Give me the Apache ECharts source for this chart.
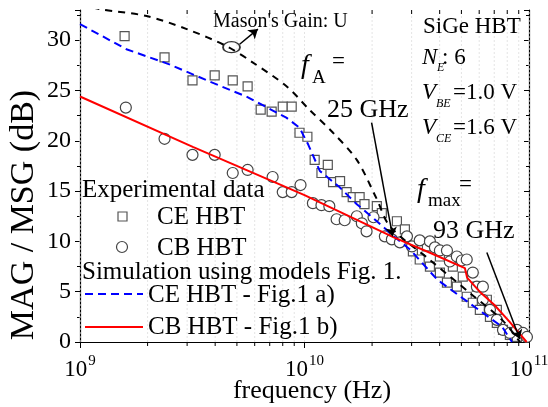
<!DOCTYPE html>
<html>
<head>
<meta charset="utf-8">
<script src="https://cdn.jsdelivr.net/npm/echarts@6/dist/echarts.min.js"></script>
<style>
  html, body { margin: 0; padding: 0; background: #fff; }
  #chart { width: 548px; height: 407px; }
</style>
</head>
<body>
<div id="chart"></div>
<script>
// Mason's gain U (black dashed)
const uFreqGHz = [1.0, 1.22, 1.98, 2.99, 4.5, 5.87, 8.34, 10.5, 13.4, 17.1, 21.0, 24.0, 36.0, 55.0, 76.6, 91.0]
const uGain = [33.6, 33.1, 32.4, 31.1, 29.4, 27.8, 25.4, 23.1, 20.8, 18.1, 14.2, 11.5, 8.2, 4.8, 2.1, 0]

// simulation CE HBT - Fig.1 a) (blue dashed)
const ceSimFreqGHz = [1.0, 1.61, 2.5, 3.77, 5.5, 8.3, 9.5, 10.4, 11.7, 14.3, 17.1, 21.0, 25.0, 29.5, 39.0, 54.0, 76.0, 84.0]
const ceSimGain = [31.6, 29.1, 27.6, 25.9, 24.4, 22.3, 21.3, 19.6, 17.0, 15.4, 13.7, 12.0, 10.5, 9.2, 6.2, 3.9, 1.5, 0]

// simulation CB HBT - Fig.1 b) (red solid)
const cbSimFreqGHz = [1.0, 3.18, 10.0, 25.0, 36.0, 51.8, 53.0, 60.3, 70.0, 82.0, 97.6]
const cbSimGain = [24.4, 19.4, 14.6, 10.4, 8.9, 7.35, 6.4, 5.0, 3.7, 2.0, 0]

// experimental CE HBT (squares)
const ceExpFreqGHz = [1.58, 2.38, 3.17, 3.98, 4.79, 5.58, 6.38, 7.14, 8.0, 8.77, 9.5, 10.3, 11.1, 11.9, 12.7,
  13.4, 14.4, 15.4, 16.4, 17.6, 18.5, 21.0, 22.1, 25.8, 28.0, 30.4, 32.6, 35.1, 36.2, 40.1, 40.1, 43.1, 45.8,
  47.7, 50.7, 52.8, 56.2, 58.6, 60.4, 64.9, 67.0, 71.9, 71.9, 76.6, 82.2, 88.3]
const ceExpGain = [30.4, 28.3, 26.0, 26.5, 26.0, 25.4, 23.1, 22.9, 23.4, 23.4, 20.8, 20.4, 18.1, 16.8, 17.6,
  15.9, 16.0, 14.9, 14.4, 14.4, 13.7, 13.5, 12.8, 12.0, 11.2, 9.0, 8.2, 9.5, 7.5, 8.5, 6.9, 5.9, 7.5,
  5.5, 6.5, 4.5, 3.9, 5.5, 3.2, 4.2, 2.5, 3.2, 1.9, 1.2, 0.7, 0.5]

// experimental CB HBT (circles)
const cbExpFreqGHz = [1.60, 2.38, 3.17, 3.98, 4.79, 5.58, 7.21, 8.0, 8.77, 9.6, 10.9, 11.9, 12.9, 13.9, 15.1,
  17.1, 18.0, 18.9, 20.3, 22.8, 24.5, 26.6, 28.6, 30.1, 32.6, 36.2, 38.1, 40.1, 43.1, 44.4, 47.7, 50.2, 52.8,
  56.2, 58.6, 62.3, 62.3, 67.0, 71.9, 76.6, 82.2, 88.3, 94.0, 97.9]
const cbExpGain = [23.3, 20.2, 18.6, 18.6, 16.8, 17.1, 16.4, 14.9, 14.9, 15.6, 13.8, 13.6, 13.5, 12.2, 12.1,
  12.5, 11.8, 11.0, 12.4, 10.5, 10.2, 9.9, 10.5, 9.5, 10.1, 10.0, 9.4, 9.1, 9.1, 8.0, 8.5, 8.1, 8.2,
  6.9, 5.5, 4.2, 5.5, 3.2, 2.2, 1.2, 0.9, 1.2, 0.9, 0.5]

// x grid / minor tick positions (Hz)
const majorFreqs = [1e9, 1e10, 1e11]
const minorFreqs = [2e9, 3e9, 4e9, 5e9, 6e9, 7e9, 8e9, 9e9, 2e10, 3e10, 4e10, 5e10, 6e10, 7e10, 8e10, 9e10]

// annotation arrows [freq GHz, gain]
const masonArrow = [[5.14, 29.6], [6.2, 31.1]]
const faArrow = [[19.9, 21.8], [24.7, 10.5]]
const fmaxArrow = [[64.9, 8.9], [91.0, 0.3]]
const masonMark = [4.73, 29.3]

const X_MIN = 1e9
const X_MAX = 1e11
const Y_MIN = 0
const Y_MAX = 33
const FONT = 'Liberation Serif'

const toPairs = (fs, vs) => fs.map((f, i) => [f * 1e9, vs[i]])
const toHz = (p) => [p[0] * 1e9, p[1]]

const chart = echarts.init(document.getElementById('chart'))

function txt(x, y, text, size, extra) {
  return {
    type: 'text',
    x: x,
    y: y,
    z: 10,
    style: Object.assign({
      text: text,
      fontFamily: FONT,
      fontSize: size,
      fill: '#000',
      align: 'left',
      verticalAlign: 'middle'
    }, extra || {})
  }
}

function itxt(x, y, text, size) {
  return txt(x, y, text, size, { fontStyle: 'italic' })
}

const option = {
  animation: false,
  backgroundColor: '#fff',
  grid: { left: 80, right: 19, top: 10, bottom: 65, outerBoundsMode: 'none', containLabel: false },
  xAxis: [{
    type: 'log',
    logBase: 10,
    min: X_MIN,
    max: X_MAX,
    axisLine: { lineStyle: { color: '#000', width: 1.2 } },
    axisTick: { show: true, length: 6, lineStyle: { color: '#000' } },
    splitLine: { show: false },
    axisLabel: {
      margin: 12,
      formatter: (v) => '{b|10}{s|' + Math.round(Math.log10(v)) + '}',
      rich: {
        b: { fontFamily: FONT, fontSize: 23, color: '#000' },
        s: { fontFamily: FONT, fontSize: 15, color: '#000', padding: [0, 0, 16, 1] }
      }
    }
  }, {
    type: 'log',
    logBase: 10,
    min: X_MIN,
    max: X_MAX,
    position: 'top',
    axisLine: { lineStyle: { color: '#000', width: 1.2 } },
    axisTick: { show: true, inside: true, length: 6, lineStyle: { color: '#000' } },
    axisLabel: { show: false },
    splitLine: { show: false }
  }],
  yAxis: [{
    type: 'value',
    min: Y_MIN,
    max: Y_MAX,
    interval: 5,
    axisLine: { show: true, lineStyle: { color: '#000', width: 1.2 } },
    axisTick: { show: true, length: 5, lineStyle: { color: '#000' } },
    minorTick: { show: true, splitNumber: 2, length: 3, lineStyle: { color: '#000' } },
    splitLine: { show: false },
    axisLabel: {
      margin: 9,
      showMaxLabel: false,
      fontFamily: FONT,
      fontSize: 24,
      color: '#000',
      formatter: (v) => (v % 5 === 0 ? String(v) : '')
    }
  }, {
    type: 'value',
    min: Y_MIN,
    max: Y_MAX,
    interval: 5,
    position: 'right',
    axisLine: { show: true, lineStyle: { color: '#000', width: 1.2 } },
    axisTick: { show: true, inside: true, length: 5, lineStyle: { color: '#000' } },
    minorTick: { show: true, splitNumber: 2, length: 3, lineStyle: { color: '#000' } },
    axisLabel: { show: false },
    splitLine: { show: false }
  }],
  series: [{
    // faint vertical grid + minor log ticks
    type: 'custom',
    silent: true,
    z: 1,
    clip: false,
    data: majorFreqs.map(f => [f, 0, 0]).concat(minorFreqs.map(f => [f, 0, 1])),
    renderItem: (params, api) => {
      const f = api.value(0)
      const minor = api.value(2) === 1
      const pb = api.coord([f, Y_MIN])
      const pt = api.coord([f, Y_MAX])
      const children = [{
        type: 'line',
        shape: { x1: pb[0], y1: pb[1], x2: pt[0], y2: pt[1] },
        style: { stroke: '#e4e4e4', lineWidth: 1, lineDash: [2, 2] }
      }]
      if (minor) {
        children.push({
          type: 'line',
          shape: { x1: pb[0], y1: pb[1], x2: pb[0], y2: pb[1] + 4 },
          style: { stroke: '#000', lineWidth: 1 }
        }, {
          type: 'line',
          shape: { x1: pt[0], y1: pt[1], x2: pt[0], y2: pt[1] + 4 },
          style: { stroke: '#000', lineWidth: 1 }
        })
      }
      return { type: 'group', children: children }
    }
  }, {
    name: 'CE HBT',
    type: 'scatter',
    z: 2,
    silent: true,
    symbol: 'rect',
    symbolSize: 9,
    itemStyle: { color: '#fff', borderColor: '#555', borderWidth: 1.2, opacity: 1 },
    data: toPairs(ceExpFreqGHz, ceExpGain)
  }, {
    name: 'CB HBT',
    type: 'scatter',
    z: 2,
    silent: true,
    symbol: 'circle',
    symbolSize: 11,
    itemStyle: { color: '#fff', borderColor: '#444', borderWidth: 1.2, opacity: 1 },
    data: toPairs(cbExpFreqGHz, cbExpGain)
  }, {
    name: "Mason's Gain: U",
    type: 'line',
    z: 3,
    silent: true,
    smooth: 0.3,
    showSymbol: false,
    lineStyle: { color: '#000', width: 2, type: [7, 6] },
    data: toPairs(uFreqGHz, uGain)
  }, {
    name: 'CE HBT - Fig.1 a)',
    type: 'line',
    z: 4,
    silent: true,
    showSymbol: false,
    lineStyle: { color: '#0000ff', width: 2, type: [8, 5] },
    data: toPairs(ceSimFreqGHz, ceSimGain)
  }, {
    name: 'CB HBT - Fig.1 b)',
    type: 'line',
    z: 4,
    silent: true,
    showSymbol: false,
    lineStyle: { color: '#ff0000', width: 2 },
    data: toPairs(cbSimFreqGHz, cbSimGain)
  }, {
    type: 'scatter',
    z: 5,
    silent: true,
    symbol: 'circle',
    symbolSize: [17, 11],
    itemStyle: { color: 'rgba(0,0,0,0)', borderColor: '#000', borderWidth: 1.5 },
    data: [toHz(masonMark)]
  }, {
    type: 'lines',
    coordinateSystem: 'cartesian2d',
    z: 6,
    silent: true,
    symbol: ['none', 'arrow'],
    symbolSize: 9,
    lineStyle: { color: '#000', width: 1.5, opacity: 1 },
    data: [
      { coords: masonArrow.map(toHz) },
      { coords: faArrow.map(toHz) },
      { coords: fmaxArrow.map(toHz) }
    ]
  }],
  graphic: [
    // axis titles placed by hand, like the original figure
    {
      type: 'text',
      x: 24,
      y: 215,
      rotation: Math.PI / 2,
      z: 10,
      style: {
        text: 'MAG / MSG (dB)',
        fontFamily: FONT,
        fontSize: 34,
        fill: '#000',
        align: 'center',
        verticalAlign: 'middle'
      }
    },
    txt(312, 391, 'frequency (Hz)', 26, { align: 'center' }),
    // annotations
    txt(213, 22, "Mason's Gain: U", 20),
    txt(423, 27, 'SiGe HBT', 23),
    itxt(422, 58, 'N', 23),
    itxt(437, 68, 'E', 12),
    txt(442, 58, ': 6', 23),
    itxt(422, 93, 'V', 23),
    itxt(436, 104, 'BE', 12),
    txt(453, 93, '=1.0 V', 23),
    itxt(422, 128, 'V', 23),
    itxt(436, 139, 'CE', 12),
    txt(453, 128, '=1.6 V', 23),
    itxt(301, 66, 'f', 28),
    txt(312, 78, 'A', 19),
    txt(332, 62, '=', 23),
    txt(327, 110, '25 GHz', 26),
    itxt(417, 190, 'f', 28),
    txt(428, 201, 'max', 19),
    txt(459, 185, '=', 23),
    txt(433, 231, '93 GHz', 26),
    // legend
    txt(82, 190, 'Experimental data', 25),
    {
      type: 'rect',
      z: 10,
      shape: { x: 118, y: 212, width: 9, height: 9 },
      style: { fill: '#fff', stroke: '#555', lineWidth: 1.2 }
    },
    txt(157, 217, 'CE HBT', 25),
    {
      type: 'circle',
      z: 10,
      shape: { cx: 122, cy: 247, r: 5.5 },
      style: { fill: '#fff', stroke: '#444', lineWidth: 1.2 }
    },
    txt(157, 248, 'CB HBT', 25),
    txt(82, 272, 'Simulation using models Fig. 1.', 25),
    {
      type: 'line',
      z: 10,
      shape: { x1: 85, y1: 294, x2: 143, y2: 294 },
      style: { stroke: '#0000ff', lineWidth: 2, lineDash: [8, 5] }
    },
    txt(148, 295, 'CE HBT - Fig.1 a)', 25),
    {
      type: 'line',
      z: 10,
      shape: { x1: 85, y1: 327, x2: 143, y2: 327 },
      style: { stroke: '#ff0000', lineWidth: 2 }
    },
    txt(148, 327, 'CB HBT - Fig.1 b)', 25)
  ]
}

chart.setOption(option)
</script>
</body>
</html>
